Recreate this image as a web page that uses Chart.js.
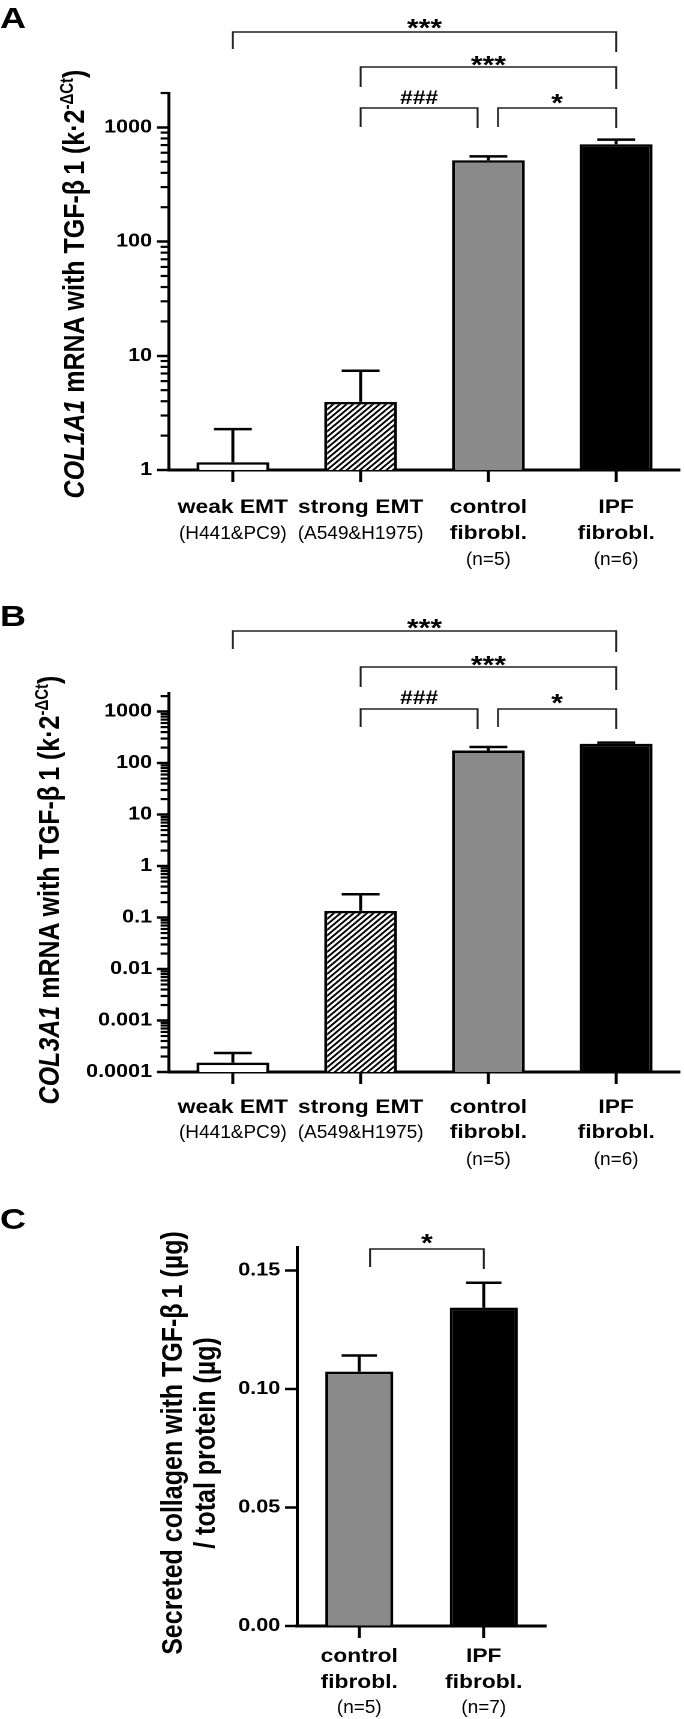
<!DOCTYPE html>
<html>
<head>
<meta charset="utf-8">
<script src="https://cdn.jsdelivr.net/npm/chart.js@4.4.1/dist/chart.umd.min.js"></script>
<style>
  html, body { margin: 0; padding: 0; background: #fff; }
  body { width: 684px; height: 1719px; overflow: hidden; }
  /* the source figure is stretched sideways, so the whole page is drawn narrow and widened */
  #page { position: relative; width: 570px; height: 1719px; transform: scaleX(1.2); transform-origin: 0 0;
          font-family: "Liberation Sans", Arial, sans-serif; color: #000; }
  canvas { position: absolute; left: 0; }
  .letter { position: absolute; left: 0; font-weight: bold; font-size: 30px; line-height: 30px; }
  .ytitle { position: absolute; font-weight: bold; font-size: 25px; line-height: 27px; white-space: nowrap;
            text-align: center; transform: translate(-50%, -50%) rotate(-90deg); }
  .sup { font-size: 0.6em; position: relative; top: -0.6em; }
</style>
</head>
<body>
<div id="page">
  <div class="letter" style="top:3px">A</div>
  <div class="letter" style="top:601px">B</div>
  <div class="letter" style="top:1204px">C</div>

  <div class="ytitle" style="left:63px; top:284px"><i>COL1A1</i> mRNA with TGF-β<span style="margin-left:0.2em">1</span> (k·2<span class="sup">-ΔCt</span>)</div>
  <div class="ytitle" style="left:42px; top:890px"><i>COL3A1</i> mRNA with TGF-β<span style="margin-left:0.2em">1</span> (k·2<span class="sup">-ΔCt</span>)</div>
  <div class="ytitle" style="left:157px; top:1443px; line-height:27px">Secreted collagen with TGF-β<span style="margin-left:0.2em">1</span> (µg)<br>/ total protein (µg)</div>

  <canvas id="chartA" width="570" height="570" style="top:0px"></canvas>
  <canvas id="chartB" width="570" height="600" style="top:570px"></canvas>
  <canvas id="chartC" width="570" height="549" style="top:1170px"></canvas>
</div>

<script>
// ---- data ----
const cellGroups = ['weak EMT', 'strong EMT', 'control fibrobl.', 'IPF fibrobl.'];
const groupLines = [['weak EMT'], ['strong EMT'], ['control', 'fibrobl.'], ['IPF', 'fibrobl.']];
const groupNotes = ['(H441&PC9)', '(A549&H1975)', '(n=5)', '(n=6)'];

const col1a1Mean = [1.17, 3.95, 515, 712];
const col1a1Sem = [1.11, 3.45, 43, 70];
const col3a1Mean = [0.000152, 0.135, 176, 238];
const col3a1Sem = [0.000082, 0.148, 29, 12];

const fibroGroups = ['control fibrobl.', 'IPF fibrobl.'];
const fibroLines = [['control', 'fibrobl.'], ['IPF', 'fibrobl.']];
const fibroNotes = ['(n=5)', '(n=7)'];
const collagenMean = [0.1074, 0.1344];
const collagenSem = [0.0068, 0.0105];

const ticksA = [1, 10, 100, 1000];
const ticksB = [0.0001, 0.001, 0.01, 0.1, 1, 10, 100, 1000];
const ticksC = [0, 0.05, 0.10, 0.15];

// significance brackets: [from group, to group, mark]
const sigA = [[0, 3, '***'], [1, 3, '***'], [1, 2, '###'], [2, 3, '*']];
const sigB = [[0, 3, '***'], [1, 3, '***'], [1, 2, '###'], [2, 3, '*']];
const sigC = [[0, 1, '*']];

// ---- drawing helpers ----
function makeHatch() {
  const s = 11;
  const c = document.createElement('canvas');
  c.width = s; c.height = s;
  const g = c.getContext('2d');
  g.fillStyle = '#fff';
  g.fillRect(0, 0, s, s);
  g.strokeStyle = '#000';
  g.lineWidth = 3.4;
  g.beginPath();
  g.moveTo(-1, s + 1); g.lineTo(s + 1, -1);
  g.moveTo(-s / 2 - 1, s / 2 + 1); g.lineTo(s / 2 + 1, -s / 2 - 1);
  g.moveTo(s / 2 - 1, s * 1.5 + 1); g.lineTo(s * 1.5 + 1, s / 2 - 1);
  g.stroke();
  const pat = g.createPattern(c, 'repeat');
  pat.setTransform(new DOMMatrix().scale(0.5));
  return pat;
}

function minorLogValues(min, max) {
  const out = [];
  for (let d = Math.floor(Math.log10(min)); d <= Math.ceil(Math.log10(max)); d++) {
    for (let k = 2; k <= 9; k++) {
      const v = k * Math.pow(10, d);
      if (v > min && v <= max) out.push(v);
    }
  }
  return out;
}

function seg(ctx, x1, y1, x2, y2) {
  ctx.beginPath();
  ctx.moveTo(x1, y1);
  ctx.lineTo(x2, y2);
  ctx.stroke();
}

function overlay(p) {
  return {
    id: 'overlay' + p.name,
    afterDatasetsDraw(chart) {
      const ctx = chart.ctx;
      const xs = chart.scales.x, ys = chart.scales.y, area = chart.chartArea;
      ctx.save();
      ctx.strokeStyle = '#000';
      ctx.fillStyle = '#000';

      // minor ticks of the log axis
      if (p.minor) {
        ctx.lineWidth = 2.2;
        p.minor.forEach(v => {
          const py = ys.getPixelForValue(v);
          seg(ctx, area.left - 7, py, area.left, py);
        });
      }

      // error bars (mean + SEM)
      ctx.lineWidth = 2.5;
      chart.getDatasetMeta(0).data.forEach((bar, i) => {
        const top = ys.getPixelForValue(p.mean[i] + p.sem[i]);
        const half = bar.width * 0.26;
        seg(ctx, bar.x, bar.y, bar.x, top);
        seg(ctx, bar.x - half, top, bar.x + half, top);
      });

      // significance brackets
      ctx.strokeStyle = '#222';
      ctx.lineWidth = 1.6;
      p.sig.forEach((s, i) => {
        const L = p.brackets[i];
        const x1 = xs.getPixelForValue(s[0]) + L.dx[0];
        const x2 = xs.getPixelForValue(s[1]) + L.dx[1];
        ctx.beginPath();
        ctx.moveTo(x1, L.y + L.drop[0]);
        ctx.lineTo(x1, L.y);
        ctx.lineTo(x2, L.y);
        ctx.lineTo(x2, L.y + L.drop[1]);
        ctx.stroke();
        const star = s[2].indexOf('*') >= 0;
        const size = star ? 25 : 19;
        ctx.font = 'bold ' + size + 'px "Liberation Sans", Arial, sans-serif';
        ctx.textAlign = 'center';
        ctx.textBaseline = 'alphabetic';
        const cy = L.y - L.lift;
        ctx.fillText(s[2], (x1 + x2) / 2, cy + (star ? 0.58 : 0.36) * size);
      });

      // category labels: bold names, condensed notes underneath
      ctx.textAlign = 'center';
      ctx.textBaseline = 'middle';
      p.lines.forEach((lines, i) => {
        const cx = xs.getPixelForValue(i);
        ctx.font = 'bold 19px "Liberation Sans", Arial, sans-serif';
        lines.forEach((t, k) => ctx.fillText(t, cx, area.bottom + p.rows[k]));
        ctx.save();
        ctx.translate(cx, area.bottom + p.rows[lines.length]);
        ctx.scale(0.88, 1);
        ctx.font = '18px "Liberation Sans", Arial, sans-serif';
        ctx.fillText(p.notes[i], 0, 0);
        ctx.restore();
      });
      ctx.restore();
    }
  };
}

function makePanel(id, p) {
  return new Chart(document.getElementById(id), {
    type: 'bar',
    data: {
      labels: p.labels,
      datasets: [{
        data: p.mean,
        backgroundColor: p.fills,
        borderColor: '#000',
        borderWidth: 2.5,
        borderSkipped: 'start',
        barPercentage: p.barPct,
        categoryPercentage: 1
      }]
    },
    options: {
      responsive: false,
      animation: false,
      devicePixelRatio: 2,
      layout: { padding: { top: p.top, right: p.right, left: 0, bottom: 0 } },
      plugins: { legend: { display: false }, tooltip: { enabled: false } },
      scales: {
        x: {
          offset: true,
          grid: { display: true, drawOnChartArea: false, offset: false, tickLength: 12, tickWidth: 2.5, color: '#000' },
          border: { display: true, width: 3, color: '#000' },
          ticks: { display: false },
          afterFit: s => { s.height = p.xHeight; }
        },
        y: {
          type: p.log ? 'logarithmic' : 'linear',
          min: p.min,
          max: p.max,
          afterBuildTicks: s => { s.ticks = p.ticks.map(v => ({ value: v })); },
          afterFit: s => { s.width = p.axisX; },
          grid: { display: true, drawOnChartArea: false, tickLength: 10, tickWidth: 2.5, color: '#000' },
          border: { display: true, width: 2.5, color: '#000' },
          ticks: {
            autoSkip: false,
            padding: 4,
            color: '#000',
            font: { family: '"Liberation Sans", Arial, sans-serif', weight: 'bold', size: 18 },
            callback: v => p.fmt(v)
          }
        }
      }
    },
    plugins: [overlay(p)]
  });
}

const hatch = makeHatch();
const fills4 = ['#ffffff', hatch, '#8a8a8a', '#000000'];

makePanel('chartA', {
  name: 'A', labels: cellGroups, mean: col1a1Mean, sem: col1a1Sem, fills: fills4,
  log: true, min: 1, max: 2000, ticks: ticksA, minor: minorLogValues(1, 2000), fmt: v => String(v),
  top: 93, right: 3.3, xHeight: 100, axisX: 140.8, barPct: 0.57,
  lines: groupLines, notes: groupNotes, rows: [38, 64, 90],
  sig: sigA,
  brackets: [
    { y: 32, drop: [17, 20], dx: [0, 0], lift: 10 },
    { y: 67, drop: [20, 22], dx: [0, 0], lift: 8 },
    { y: 108, drop: [19, 20], dx: [0, -9], lift: 11 },
    { y: 108, drop: [19, 20], dx: [8, 0], lift: 11 }
  ]
});

makePanel('chartB', {
  name: 'B', labels: cellGroups, mean: col3a1Mean, sem: col3a1Sem, fills: fills4,
  log: true, min: 0.0001, max: 2300, ticks: ticksB, minor: minorLogValues(0.0001, 2300), fmt: v => String(v),
  top: 123, right: 3.3, xHeight: 98, axisX: 140.8, barPct: 0.57,
  lines: groupLines, notes: groupNotes, rows: [36, 61, 88],
  sig: sigB,
  brackets: [
    { y: 61, drop: [18, 21], dx: [0, 0], lift: 9 },
    { y: 97, drop: [20, 23], dx: [0, 0], lift: 8 },
    { y: 139, drop: [18, 20], dx: [0, -9], lift: 12 },
    { y: 139, drop: [18, 20], dx: [8, 0], lift: 12 }
  ]
});

makePanel('chartC', {
  name: 'C', labels: fibroGroups, mean: collagenMean, sem: collagenSem, fills: ['#8a8a8a', '#000000'],
  log: false, min: 0, max: 0.16, ticks: ticksC, minor: null, fmt: v => v.toFixed(2),
  top: 77, right: 115, xHeight: 93, axisX: 247.5, barPct: 0.546,
  lines: fibroLines, notes: fibroNotes, rows: [31, 57, 82],
  sig: sigC,
  brackets: [
    { y: 79, drop: [18, 20], dx: [9, 0], lift: 12 }
  ]
});
</script>
</body>
</html>
